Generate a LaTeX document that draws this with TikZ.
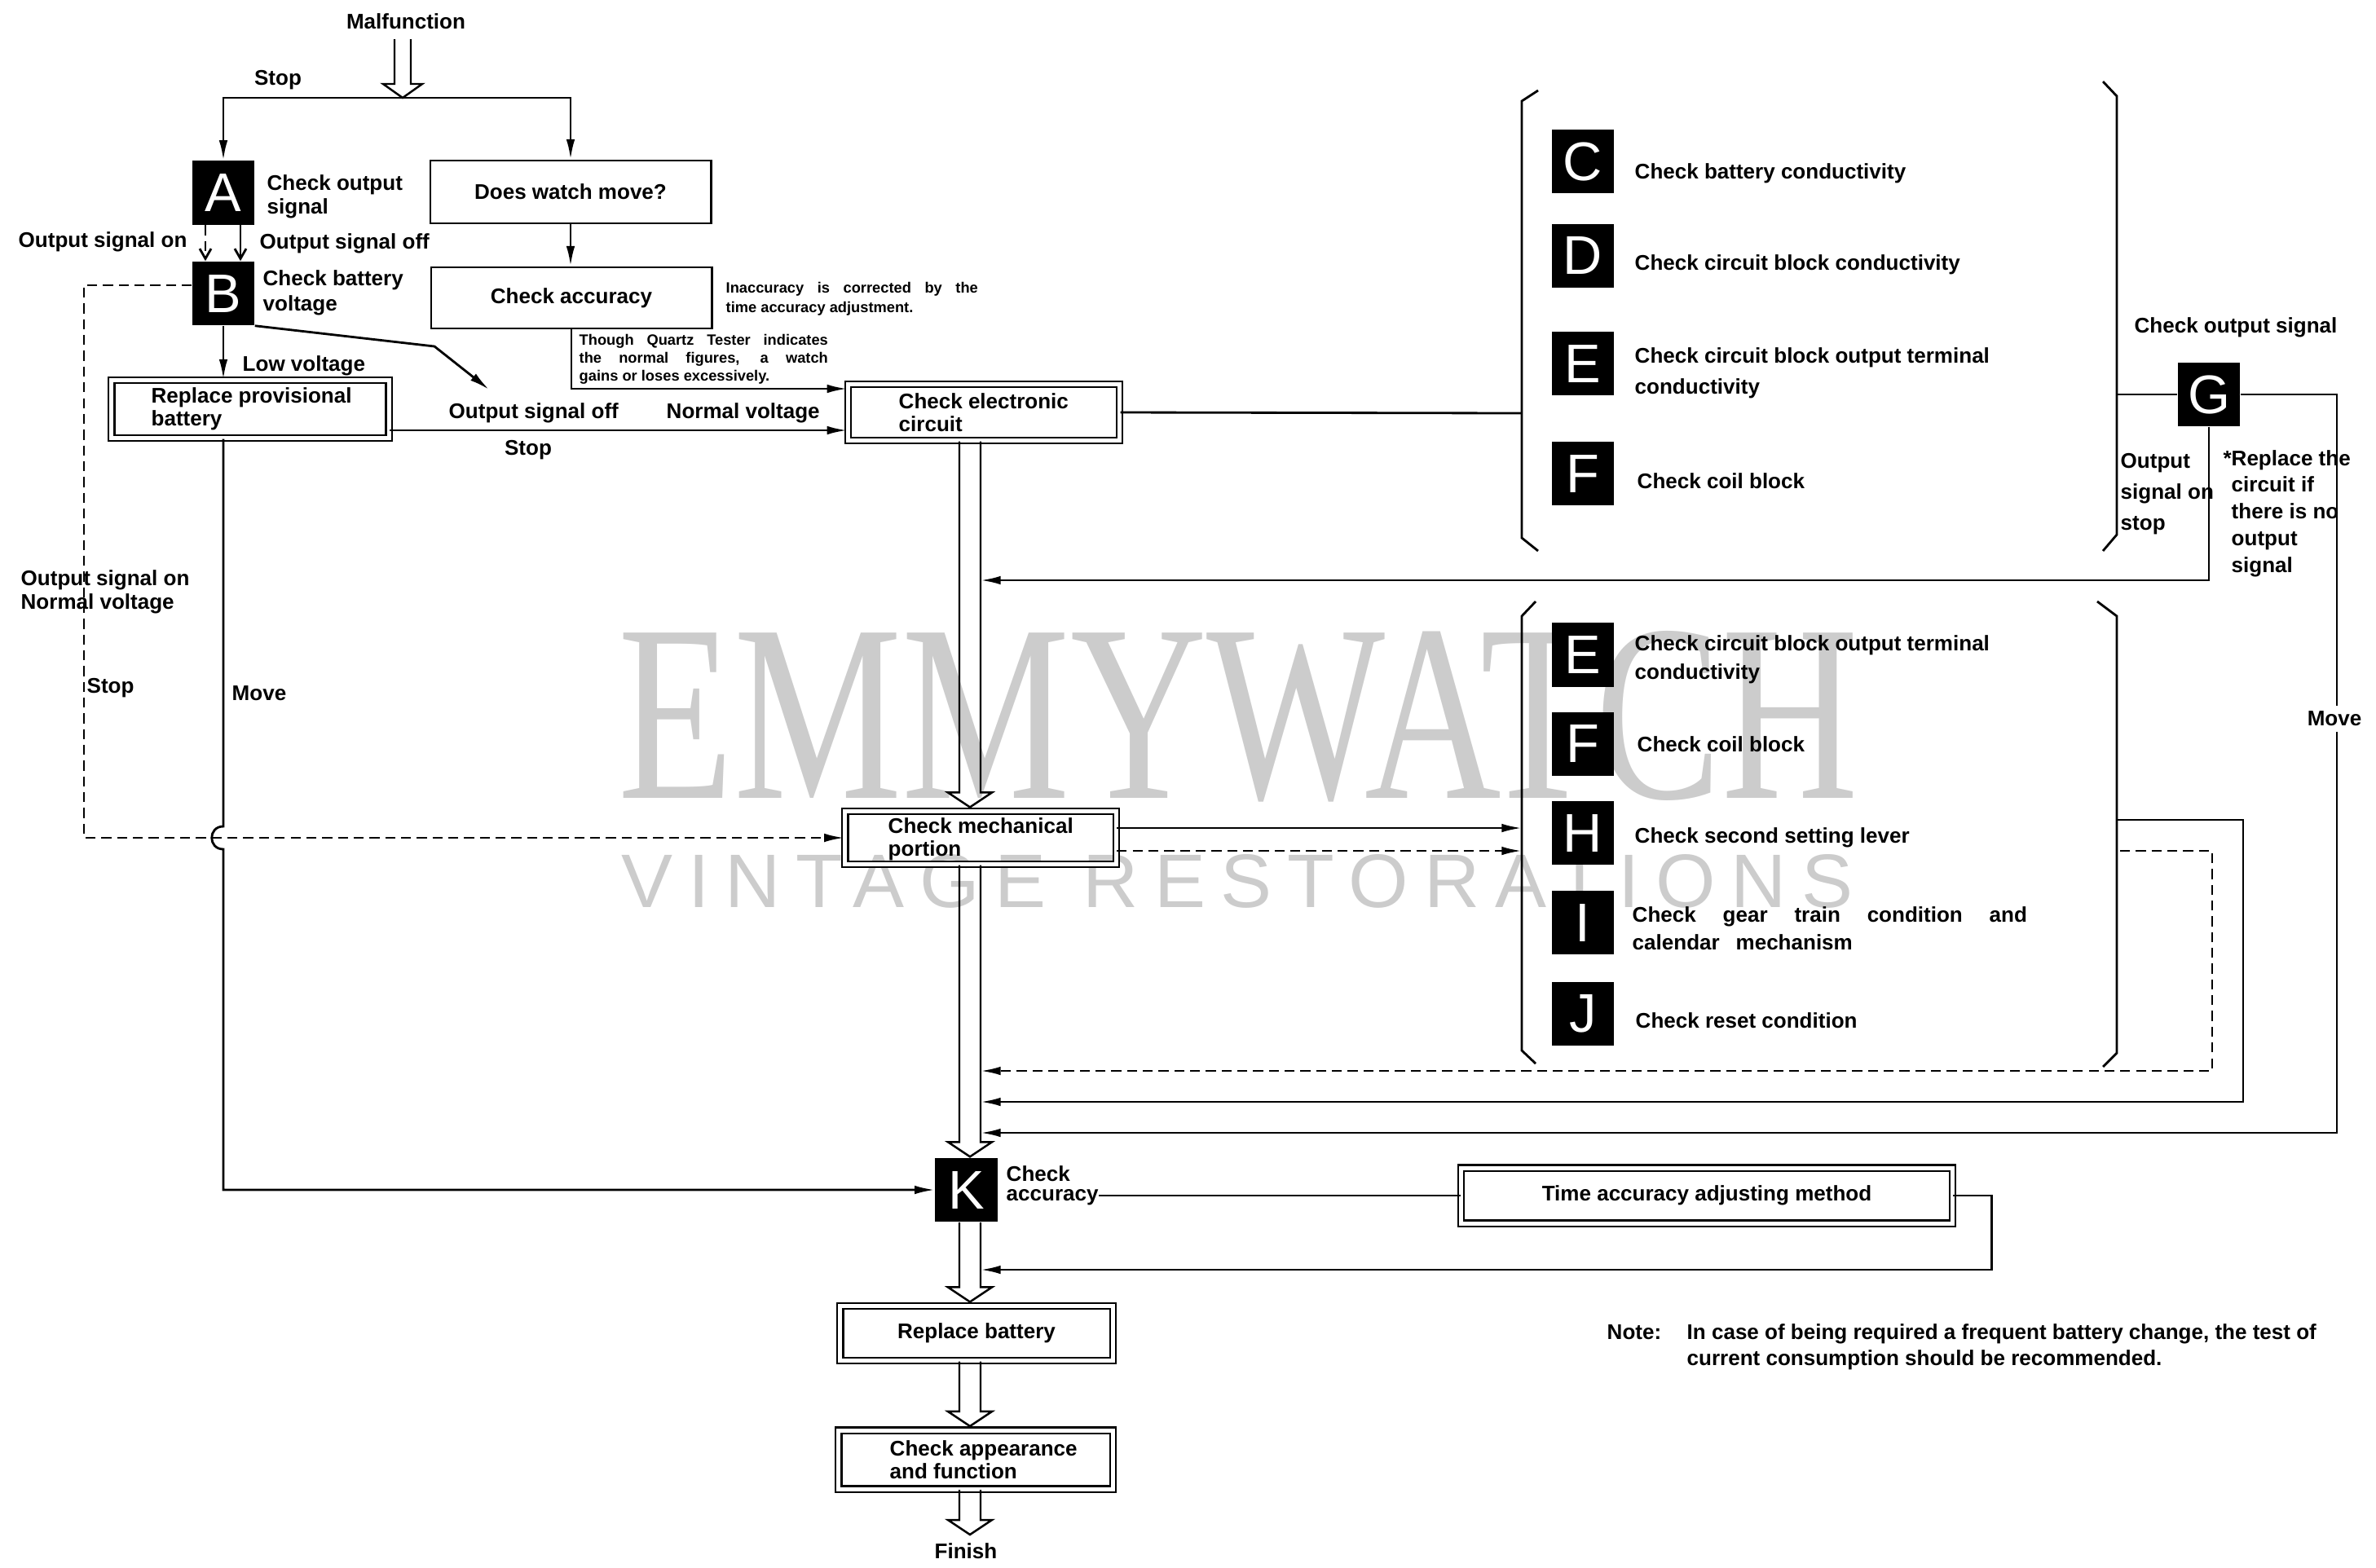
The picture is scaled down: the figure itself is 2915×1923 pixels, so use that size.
\documentclass[tikz,border=0pt]{standalone}
\usepackage{fontspec}
\usepackage{graphicx}
\setmainfont{Liberation Sans}
\newfontfamily\wmserif{Liberation Serif}
\newfontfamily\wmsans[LetterSpace=20]{Liberation Sans}
\usetikzlibrary{arrows.meta,calc}
\newcommand\hollowarr[5]{\draw[hol] ($(#1)+(-#3,0)$) -- ($(#2)+(-#3,-#5)$) -- ($(#2)+(-#4,-#5)$) -- (#2) -- ($(#2)+(#4,-#5)$) -- ($(#2)+(#3,-#5)$) -- ($(#1)+(#3,0)$);}
\begin{document}
\begin{tikzpicture}[x=0.01cm,y=-0.01cm,
  every node/.style={font=\fontsize{7.4}{8}\selectfont\bfseries, inner sep=0pt},
  ln/.style={line width=0.8pt},
  arr/.style={ln,-{Latex[length=7pt,width=3pt]}},
  barb/.style={ln,-{Straight Barb[length=3.5pt,width=4pt]}},
  dsh/.style={dash pattern=on 3.5pt off 2pt},
  hol/.style={line width=0.7pt, line join=miter},
  sbox/.style={draw, line width=0.8pt},
  dbox/.style={draw, line width=0.6pt, double, double distance=0.05cm},
  lbox/.style={fill=black, text=white, minimum width=0.76cm, minimum height=0.78cm, font=\fontsize{19}{19}\selectfont},
  lab/.style={anchor=base west, align=left},
  bs/.style={font=\fontsize{7.4}{#1}\selectfont\bfseries},
  small/.style={font=\fontsize{5.2}{#1}\selectfont\bfseries},
]
\useasboundingbox (0,0) rectangle (2915,1923);
% watermark
\node[anchor=south west, text=black!20, font=\wmserif] (wm1) at (758,985) {\resizebox{15.2cm}{2.05cm}{EMMYWATCH}};
\node[anchor=south west, text=black!20, font=\wmsans] (wm2) at (762,1115) {\resizebox{15.1cm}{0.65cm}{VINTAGE RESTORATIONS}};

% top
\node[anchor=base] (malf) at (498,35) {Malfunction};
\coordinate (mtop) at (494,48);
\coordinate (mtip) at (494,120);
\hollowarr{mtop}{mtip}{10}{24}{17}
\node[anchor=base] (stop1) at (341,104) {Stop};

% boxes
\node[lbox] (A) at (274,236.5) {A};
\node[lbox] (B) at (274,360) {B};
\node[sbox, minimum width=3.44cm, minimum height=0.77cm] (move) at (700,235.5) {Does watch move?};
\node[sbox, minimum width=3.44cm, minimum height=0.75cm] (acc) at (701,365.5) {Check accuracy};
\node[dbox, minimum width=3.40cm, minimum height=0.71cm] (prov) at (307,502) {};
\node[anchor=west, align=left] (provt) at (185,502) {Replace provisional\\battery};
\node[dbox, minimum width=3.33cm, minimum height=0.69cm] (elec) at (1207,506) {};
\node[anchor=west, align=left] (elect) at (1102,506) {Check electronic\\circuit};
\node[dbox, minimum width=3.32cm, minimum height=0.65cm] (mech) at (1203,1028) {};
\node[anchor=west, align=left] (mecht) at (1089,1030) {Check mechanical\\portion};
\node[lbox] (K) at (1185.5,1460) {K};
\node[dbox, minimum width=3.34cm, minimum height=0.67cm] (repbat) at (1198,1636) {Replace battery};
\node[dbox, minimum width=3.36cm, minimum height=0.72cm] (appear) at (1197,1791) {};
\node[anchor=west, align=left] (appeart) at (1091,1791) {Check appearance\\and function};
\node[dbox, minimum width=6.02cm, minimum height=0.68cm] (tacc) at (2094,1467) {Time accuracy adjusting method};
\node[anchor=base] (finish) at (1185,1912) {Finish};

% labels left part (base = last line)
\node[lab, bs=8pt] (Alab) at (327,262) {Check output\\signal};
\node[lab, bs=8.8pt] (Blab) at (322,381) {Check battery\\voltage};
\node[lab] (oson) at (22,303) {Output signal on};
\node[lab] (osoff) at (318,305) {Output signal off};
\node[lab] (lowv) at (297,455) {Low voltage};
\node[lab] (osoff2) at (550,513) {Output signal off};
\node[anchor=base] (stop2) at (648,558) {Stop};
\node[lab] (normv) at (817,513) {Normal voltage};
\node[lab, bs=8.25pt] (osnv) at (25,747) {Output signal on\\Normal voltage};
\node[lab] (stop3) at (106,850) {Stop};
\node[lab] (move1) at (284,859) {Move};
\node[lab, bs=6.6pt] (Klab) at (1234,1473) {Check\\accuracy};
\node[lab, small=6.8pt] (inacc) at (890,383) {\makebox[3.09cm][s]{Inaccuracy is corrected by the}\\time accuracy adjustment.};
\node[lab, small=6.2pt] (quartz) at (710,467) {\makebox[3.05cm][s]{Though Quartz Tester indicates}\\\makebox[3.05cm][s]{the normal figures, a watch}\\gains or loses excessively.};

% connectors top
\draw[arr] (mtip) -| (A.north);
\draw[arr] (mtip) -| (move.north);
\draw[barb, dsh] ($(A.south)+(-22,0)$) -- ($(B.north)+(-22,0)$);
\draw[barb] ($(A.south)+(21,0)$) -- ($(B.north)+(21,0)$);
\draw[arr] (B.south) -- (B.south |- prov.north);
\coordinate (d1) at (533,425);
\coordinate (d2) at (600,478);
\draw[arr] (B.south east) -- (d1) -- (d2);
\draw[arr] (move.south) -- (move.south |- acc.north);
\draw[arr] (acc.south) |- ($(elec.west)+(0,-29)$);
\draw[arr] ($(prov.east)+(0,26)$) -- ($(elec.west)+(0,22)$);
% dashed loop and crossing
\coordinate (dl) at (103,0);
\coordinate (cr) at (B.south |- mech.west);
\draw[arr, dsh] ($(B.west)+(0,-10)$) -| (dl |- mech.west) -- (mech.west);
\draw[arr] (prov.south -| B.south) -- ($(cr)+(0,-14)$) .. controls ($(cr)+(-19,-14)$) and ($(cr)+(-19,14)$) .. ($(cr)+(0,14)$) |- (K.west);

% central hollow arrows
\coordinate (sx) at (1190,0);
\coordinate (h1a) at (elec.south -| sx);
\coordinate (h1b) at ($(mech.north -| sx)+(0,-4)$);
\coordinate (h2a) at (mech.south -| sx);
\coordinate (h2b) at ($(K.north -| sx)+(0,-1)$);
\coordinate (h3a) at (K.south -| sx);
\coordinate (h3b) at ($(repbat.north -| sx)+(0,-4)$);
\coordinate (h4a) at (repbat.south -| sx);
\coordinate (h4b) at ($(appear.north -| sx)+(0,-4)$);
\coordinate (h5a) at (appear.south -| sx);
\coordinate (h5b) at (1190,1883);
\hollowarr{h1a}{h1b}{13}{27}{18}
\hollowarr{h2a}{h2b}{13}{27}{18}
\hollowarr{h3a}{h3b}{13}{27}{18}
\hollowarr{h4a}{h4b}{13}{27}{18}
\hollowarr{h5a}{h5b}{13}{27}{18}

% brackets
\draw[ln] (1887,111) -- (1867,124) -- (1867,660) -- (1887,676);
\draw[ln] (2580,100) -- (2597,118) -- (2597,656) -- (2580,676);
\draw[ln] (1884,738) -- (1867,756) -- (1867,1289) -- (1884,1305);
\draw[ln] (2573,738) -- (2597,756) -- (2597,1292) -- (2580,1309);

% bracket 1 contents
\node[lbox] (C) at (1942,198) {C};
\node[lbox] (D) at (1942,314) {D};
\node[lbox] (E1) at (1942,446) {E};
\node[lbox] (F1) at (1942,581) {F};
\node[lab] (Ct) at (2005,219) {Check battery conductivity};
\node[lab] (Dt) at (2005,331) {Check circuit block conductivity};
\node[lab, bs=10.8pt] (E1t) at (2005,483) {Check circuit block output terminal\\conductivity};
\node[lab] (F1t) at (2008,599) {Check coil block};
% bracket 2 contents
\node[lbox] (E2) at (1942,803.5) {E};
\node[lbox] (F2) at (1942,912.5) {F};
\node[lbox] (H) at (1942,1022) {H};
\node[lbox] (I) at (1942,1132) {I};
\node[lbox] (J) at (1942,1243.5) {J};
\node[lab, bs=9.7pt] (E2t) at (2005,833) {Check circuit block output terminal\\conductivity};
\node[lab] (F2t) at (2008,922) {Check coil block};
\node[lab] (Ht) at (2005,1034) {Check second setting lever};
\node[lab, bs=9.4pt] (It) at (2002,1165) {\makebox[4.84cm][s]{Check gear train condition and}\\\makebox[2.70cm][s]{calendar mechanism}};
\node[lab] (Jt) at (2006,1261) {Check reset condition};

% G
\node[lbox] (G) at (2710,484) {G};
\node[anchor=base] (Glab) at (2743,408) {Check output signal};
\node[lab, bs=10.8pt] (Gon) at (2601,650) {Output\\signal on\\stop};
\node[lab, bs=9.3pt] (Grep) at (2737,702) {\llap{*}Replace the\\circuit if\\there is no\\output\\signal};

% right connectors
\coordinate (b1L) at (1867,507);
\coordinate (b1R) at (2597,484);
\draw[ln] (elec.east) -- (b1L);
\draw[ln] (b1R) -- (G.west);
\coordinate (t1) at (1203,712);
\draw[arr] (G.south) |- (t1);
\coordinate (gR) at (2867,484);
\coordinate (t4) at (1203,1390);
\draw[arr] (G.east) -- (gR) |- (t4);
\node[fill=white, inner sep=2pt] (move2) at (2864,882) {Move};
\coordinate (b2Lu) at (1867,1016);
\coordinate (b2Ld) at (1867,1044);
\draw[arr] ($(mech.east)+(0,-12)$) -- (b2Lu);
\draw[arr, dsh] ($(mech.east)+(0,16)$) -- (b2Ld);
\coordinate (b2s) at (2597,1006);
\coordinate (b2sR) at (2752,1006);
\coordinate (t3) at (1203,1352);
\draw[arr] (b2s) -- (b2sR) |- (t3);
\coordinate (b2d) at (2601,1044);
\coordinate (b2dR) at (2714,1044);
\coordinate (t2) at (1203,1314);
\draw[arr, dsh] (b2d) -- (b2dR) |- (t2);
\draw[ln] (Klab.east |- tacc.west) -- (tacc.west);
\coordinate (t5) at (1203,1558);
\draw[arr] (tacc.east) -- ++(47,0) |- (t5);

% note
\node[lab] (notel) at (1971,1643) {Note:};
\node[lab, bs=9.1pt] (notet) at (2069,1675) {In case of being required a frequent battery change, the test of\\current consumption should be recommended.};
\end{tikzpicture}
\end{document}
